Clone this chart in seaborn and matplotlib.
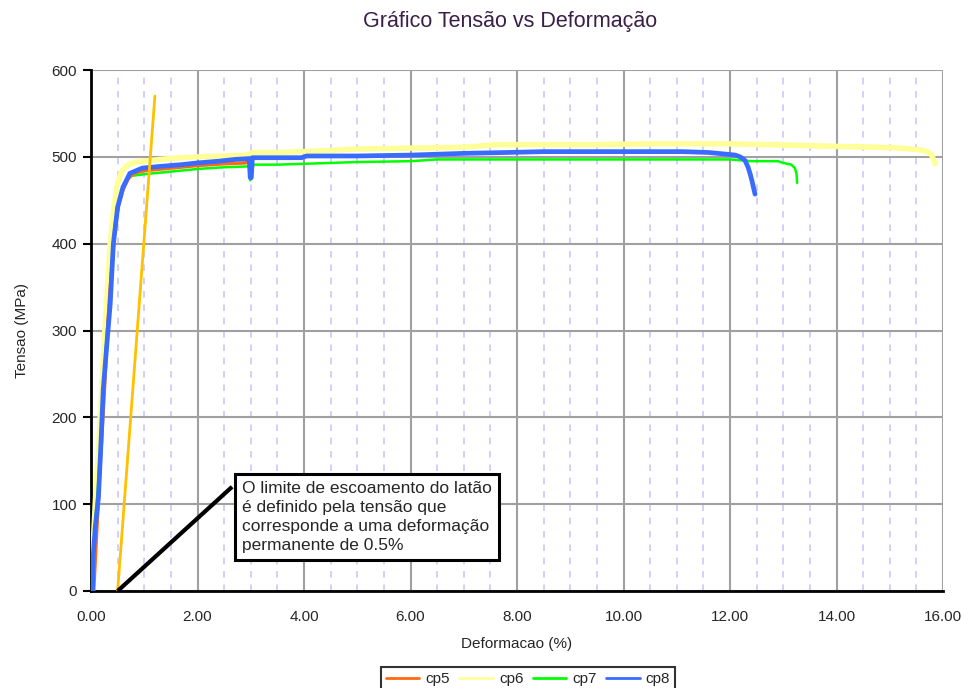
import numpy as np
import pandas as pd
import matplotlib
matplotlib.use("Agg")
import matplotlib.pyplot as plt
import seaborn as sns

# ---------------- data ----------------
series_names = ["cp5", "cp6", "cp7", "cp8"]

cp5_x = [0.05, 0.10, 0.15, 0.20, 0.25, 0.30, 0.35, 0.40, 0.45, 0.52, 0.60, 0.70, 0.80, 1.00,
         1.50, 2.00, 2.50, 2.90, 2.95]
cp5_y = [0, 60, 120, 175, 230, 290, 340, 380, 420, 445, 462, 475, 481, 484,
         487, 490, 492, 493, 495]

cp6_x = [0.00, 0.03, 0.08, 0.14, 0.20, 0.25, 0.30, 0.36, 0.43, 0.50, 0.58, 0.70, 0.85, 1.00,
         1.30, 1.70, 2.00, 2.50, 2.90, 3.05, 3.50, 4.00, 5.00, 6.00, 7.00, 7.60, 8.50, 9.50,
         10.50, 11.50, 12.00, 12.70, 13.45, 14.00, 14.80, 15.20, 15.57, 15.70, 15.78, 15.82, 15.85]
cp6_y = [0, 40, 100, 162, 230, 290, 340, 400, 442, 470, 484, 491, 494, 495,
         497, 499, 500, 501, 502, 505, 505, 506, 509, 510, 511, 514, 514, 514,
         515, 515, 515, 514, 513, 512, 511, 510, 508, 506, 503, 497, 492]

cp7_x = [0.02, 0.04, 0.08, 0.13, 0.18, 0.22, 0.28, 0.34, 0.40, 0.47, 0.55, 0.63, 0.75, 1.00,
         1.50, 2.00, 2.50, 2.97, 2.99, 3.01, 3.05, 3.50, 4.00, 5.00, 6.00, 6.50, 8.00, 10.00,
         12.00, 12.40, 12.90, 13.00, 13.15, 13.22, 13.25, 13.26]
cp7_y = [0, 30, 80, 120, 170, 225, 280, 330, 385, 425, 455, 470, 478, 480,
         483, 486, 488, 489, 473, 478, 491, 491, 492, 494, 495, 497, 497, 497,
         497, 495, 495, 493, 491, 487, 480, 470]

cp8_x = [0.03, 0.04, 0.08, 0.14, 0.19, 0.23, 0.30, 0.36, 0.42, 0.50, 0.60, 0.73, 0.96, 1.30,
         1.70, 2.00, 2.40, 2.70, 2.97, 2.99, 3.01, 3.03, 3.50, 3.95, 4.05, 5.00, 6.00, 7.00,
         7.80, 8.50, 9.50, 10.50, 11.10, 11.60, 11.94, 12.10, 12.19, 12.28, 12.34, 12.38, 12.41,
         12.44, 12.47]
cp8_y = [0, 39, 74, 108, 174, 232, 286, 330, 400, 442, 465, 481, 487, 489,
         491, 493, 495, 497, 498, 476, 476, 499, 499, 499, 501, 501, 502, 504,
         505, 506, 506, 506, 506, 505, 503, 502, 500, 496, 488, 480, 473,
         465, 457]

yield_x = [0.5, 1.2]
yield_y = [0, 570]
pointer_x = [0.5, 2.65]
pointer_y = [0, 120]

x_ticks = [0, 2, 4, 6, 8, 10, 12, 14, 16]
x_tick_labels = ["0.00", "2.00", "4.00", "6.00", "8.00", "10.00", "12.00", "14.00", "16.00"]
y_ticks = [0, 100, 200, 300, 400, 500, 600]

title = "Gráfico Tensão vs Deformação"
x_label = "Deformacao (%)"
y_label = "Tensao (MPa)"
note = ("O limite de escoamento do latão\n"
        "é definido pela tensão que\n"
        "corresponde a uma deformação\n"
        "permanente de 0.5%")

# ---------------- frame ----------------
frames = []
for name, xs, ys in [("cp5", cp5_x, cp5_y), ("cp6", cp6_x, cp6_y),
                     ("cp7", cp7_x, cp7_y), ("cp8", cp8_x, cp8_y)]:
    frames.append(pd.DataFrame({"strain": xs, "stress": ys, "cp": name,
                                "order": np.arange(len(xs))}))
df = pd.concat(frames, ignore_index=True)

sns.set_theme(style="white")
plt.rcParams["font.family"] = ["Liberation Sans", "DejaVu Sans"]

fig = plt.figure(figsize=(9.64, 6.88), dpi=100)
ax = fig.add_axes([91 / 964, 1 - 591 / 688, (943 - 91) / 964, (591 - 70) / 688])

palette = {"cp5": "#FF6A13", "cp6": "#FFFF99", "cp7": "#00FF00", "cp8": "#3A6BFF"}
widths = {"cp5": 2.5, "cp6": 4.0, "cp7": 1.8, "cp8": 3.4}
zorders = {"cp6": 3, "cp7": 4, "cp5": 5, "cp8": 6}

for name in ["cp6", "cp7", "cp5", "cp8"]:
    sub = df[df["cp"] == name]
    sns.lineplot(data=sub, x="strain", y="stress", sort=False, estimator=None,
                 color=palette[name], linewidth=widths[name], ax=ax,
                 zorder=zorders[name], label=name)

# yield offset line and annotation pointer
ax.plot(yield_x, yield_y, color="#FFC000", linewidth=2.0, zorder=7)
ax.plot(pointer_x, pointer_y, color="black", linewidth=3.0, zorder=8,
        solid_capstyle="butt")

ax.text(2.83, 127, note, fontsize=12.5, va="top", ha="left", zorder=10,
        linespacing=1.35,
        bbox=dict(boxstyle="square,pad=0.4", facecolor="white",
                  edgecolor="black", linewidth=2.2))

# axes, grid
ax.set_xlim(0, 16)
ax.set_ylim(0, 600)
ax.set_xticks(x_ticks)
ax.set_xticklabels(x_tick_labels)
ax.set_yticks(y_ticks)
ax.set_xticks(np.arange(0.5, 16, 0.5), minor=True)
ax.grid(which="major", color="#A0A0A0", linewidth=1.5, zorder=0)
ax.grid(which="minor", axis="x", color="#C8C8FF", linewidth=1.2,
        linestyle=(0, (4, 4)), zorder=0)
ax.set_axisbelow(True)
ax.set_facecolor("white")

for s in ["top", "right"]:
    ax.spines[s].set_visible(False)
for s in ["left", "bottom"]:
    ax.spines[s].set_color("black")
    ax.spines[s].set_linewidth(2.0)

ax.tick_params(axis="y", which="major", direction="out", length=6, width=1.5,
               color="black", labelsize=11, pad=4, left=True)
ax.tick_params(axis="x", which="major", length=0, labelsize=11, pad=14)
ax.tick_params(axis="x", which="minor", length=0)

ax.set_xlabel(x_label, fontsize=11, labelpad=9)
ax.set_ylabel(y_label, fontsize=11, labelpad=16)
fig.text(510 / 964, 1 - 22 / 688, title, fontsize=15.5, ha="center", va="center",
         color="#3a2048")

# legend
handles, labels = ax.get_legend_handles_labels()
order = [labels.index(n) for n in series_names]
ax.legend([handles[i] for i in order], [labels[i] for i in order],
          loc="upper center", bbox_to_anchor=(528 / 964, 1 - 659 / 688),
          bbox_transform=fig.transFigure, ncol=4, frameon=True, fancybox=False,
          edgecolor="black", fontsize=11, handlelength=2.2, handletextpad=0.4,
          columnspacing=0.6, borderpad=0.35)
leg = ax.get_legend()
leg.get_frame().set_linewidth(1.5)
for line in leg.get_lines():
    line.set_linewidth(2.0)

fig.savefig("out.png", dpi=100, facecolor="white")
